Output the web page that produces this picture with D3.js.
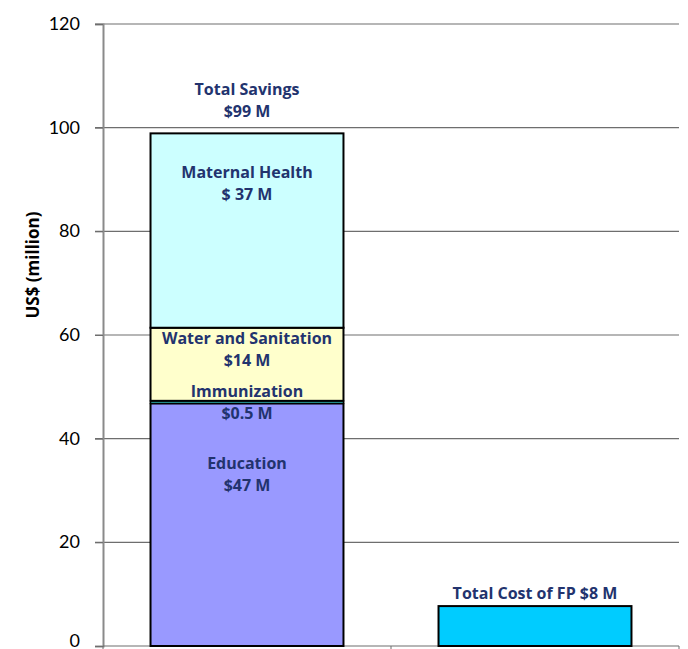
<!DOCTYPE html>
<html>
<head>
<meta charset="utf-8">
<script src="https://cdn.jsdelivr.net/npm/d3@7"></script>
<style>
  body { margin: 0; background: #fff; }
  .lbl { font-family: "Open Sans", "Noto Sans", sans-serif; font-weight: 700; fill: #22336e; font-size: 16px; }
</style>
</head>
<body>
<svg id="chart" width="688" height="649"></svg>
<script>
// savings stack, bottom to top (US$ million)
const segments = ["Education", "Immunization", "Water and Sanitation", "Maternal Health"]
const segValues = [46.8, 0.5, 14.1, 37.5]
const segLabels = ["$47 M", "$0.5 M", "$14 M", "$ 37 M"]
const segColors = ["#9999ff", "#33cccc", "#ffffcc", "#ccffff"]
const categories = ["Savings", "Cost"]
const costValue = 7.7
const yTicks = [0, 20, 40, 60, 80, 100, 120]

const svg = d3.select("#chart")
const mLeft = 103, mRight = 679, mTop = 24, mBottom = 646

const y = d3.scaleLinear().domain([0, 120]).range([mBottom, mTop])
const x = d3.scaleBand().domain(categories).range([mLeft, mRight])
const barW = x.bandwidth() * 0.67

// gridlines
svg.append("g")
  .selectAll("line")
  .data(yTicks.slice(1))
  .join("line")
  .attr("x1", mLeft - 8).attr("x2", mRight)
  .attr("y1", d => y(d)).attr("y2", d => y(d))
  .attr("stroke", "#6e6e6e").attr("stroke-width", 1.2)

// y axis
const yAxis = svg.append("g")
  .attr("transform", `translate(${mLeft},0)`)
  .call(d3.axisLeft(y).tickValues(yTicks).tickSize(8).tickPadding(15))
yAxis.select(".domain").attr("stroke", "#8a8a8a").attr("stroke-width", 2)
yAxis.selectAll(".tick line").attr("stroke", "#6e6e6e")
yAxis.selectAll("text")
  .attr("font-family", "Lato, 'Noto Sans', sans-serif")
  .attr("font-size", 18).attr("fill", "#000")
  .attr("dy", d => d == 0 ? "0.0em" : "0.3em")

// x axis
const xAxis = svg.append("g")
  .attr("transform", `translate(0,${mBottom})`)
xAxis.append("line").attr("x1", mLeft).attr("x2", mRight).attr("stroke", "#6e6e6e").attr("stroke-width", 1.2)
xAxis.selectAll("line.tk")
  .data([mLeft, mLeft + x.step(), mRight])
  .join("line").attr("class", "tk")
  .attr("x1", d => d).attr("x2", d => d).attr("y1", 0).attr("y2", 8)
  .attr("stroke", "#6e6e6e")

svg.append("text")
  .attr("transform", `translate(39,${(mTop + mBottom) / 2 - 70}) rotate(-90)`)
  .attr("text-anchor", "middle")
  .attr("font-family", "'Open Sans', 'Noto Sans', sans-serif")
  .attr("font-weight", 700).attr("font-size", 17).attr("fill", "#000")
  .text("US$ (million)")

// stacked savings bar
const stack = segValues.map((v, i) => {
  const y0 = d3.sum(segValues.slice(0, i))
  return { name: segments[i], label: segLabels[i], color: segColors[i], y0: y0, y1: y0 + v }
})
const bx = x("Savings") + (x.bandwidth() - barW) / 2
svg.append("g")
  .selectAll("rect")
  .data(stack)
  .join("rect")
  .attr("x", bx).attr("width", barW)
  .attr("y", d => y(d.y1)).attr("height", d => y(d.y0) - y(d.y1))
  .attr("fill", d => d.color)
  .attr("stroke", "#000").attr("stroke-width", d => d.name == "Immunization" ? 1.5 : 2)

// label offset (px) below each segment's top
const labelOffset = { "Education": 60, "Immunization": -9, "Water and Sanitation": 11, "Maternal Health": 39 }
const cx = x("Savings") + x.bandwidth() / 2
stack.forEach(d => {
  const ty = y(d.y1) + labelOffset[d.name]
  const t = svg.append("text").attr("class", "lbl").attr("text-anchor", "middle")
  t.append("tspan").attr("x", cx).attr("y", ty).attr("dy", "0.35em").text(d.name)
  t.append("tspan").attr("x", cx).attr("y", ty + 22).attr("dy", "0.35em").text(d.label)
})

const total = d3.sum(segValues)
const tt = svg.append("text").attr("class", "lbl").attr("text-anchor", "middle")
tt.append("tspan").attr("x", cx).attr("y", y(total) - 44).attr("dy", "0.35em").text("Total Savings")
tt.append("tspan").attr("x", cx).attr("y", y(total) - 22).attr("dy", "0.35em").text("$99 M")

// cost bar
const cx2 = x("Cost") + x.bandwidth() / 2
svg.append("rect")
  .attr("x", cx2 - barW / 2).attr("width", barW)
  .attr("y", y(costValue)).attr("height", y(0) - y(costValue))
  .attr("fill", "#00ccff").attr("stroke", "#000").attr("stroke-width", 2)
svg.append("text").attr("class", "lbl").attr("text-anchor", "middle")
  .attr("x", cx2).attr("y", y(costValue) - 13).attr("dy", "0.35em")
  .text("Total Cost of FP $8 M")
</script>
</body>
</html>
